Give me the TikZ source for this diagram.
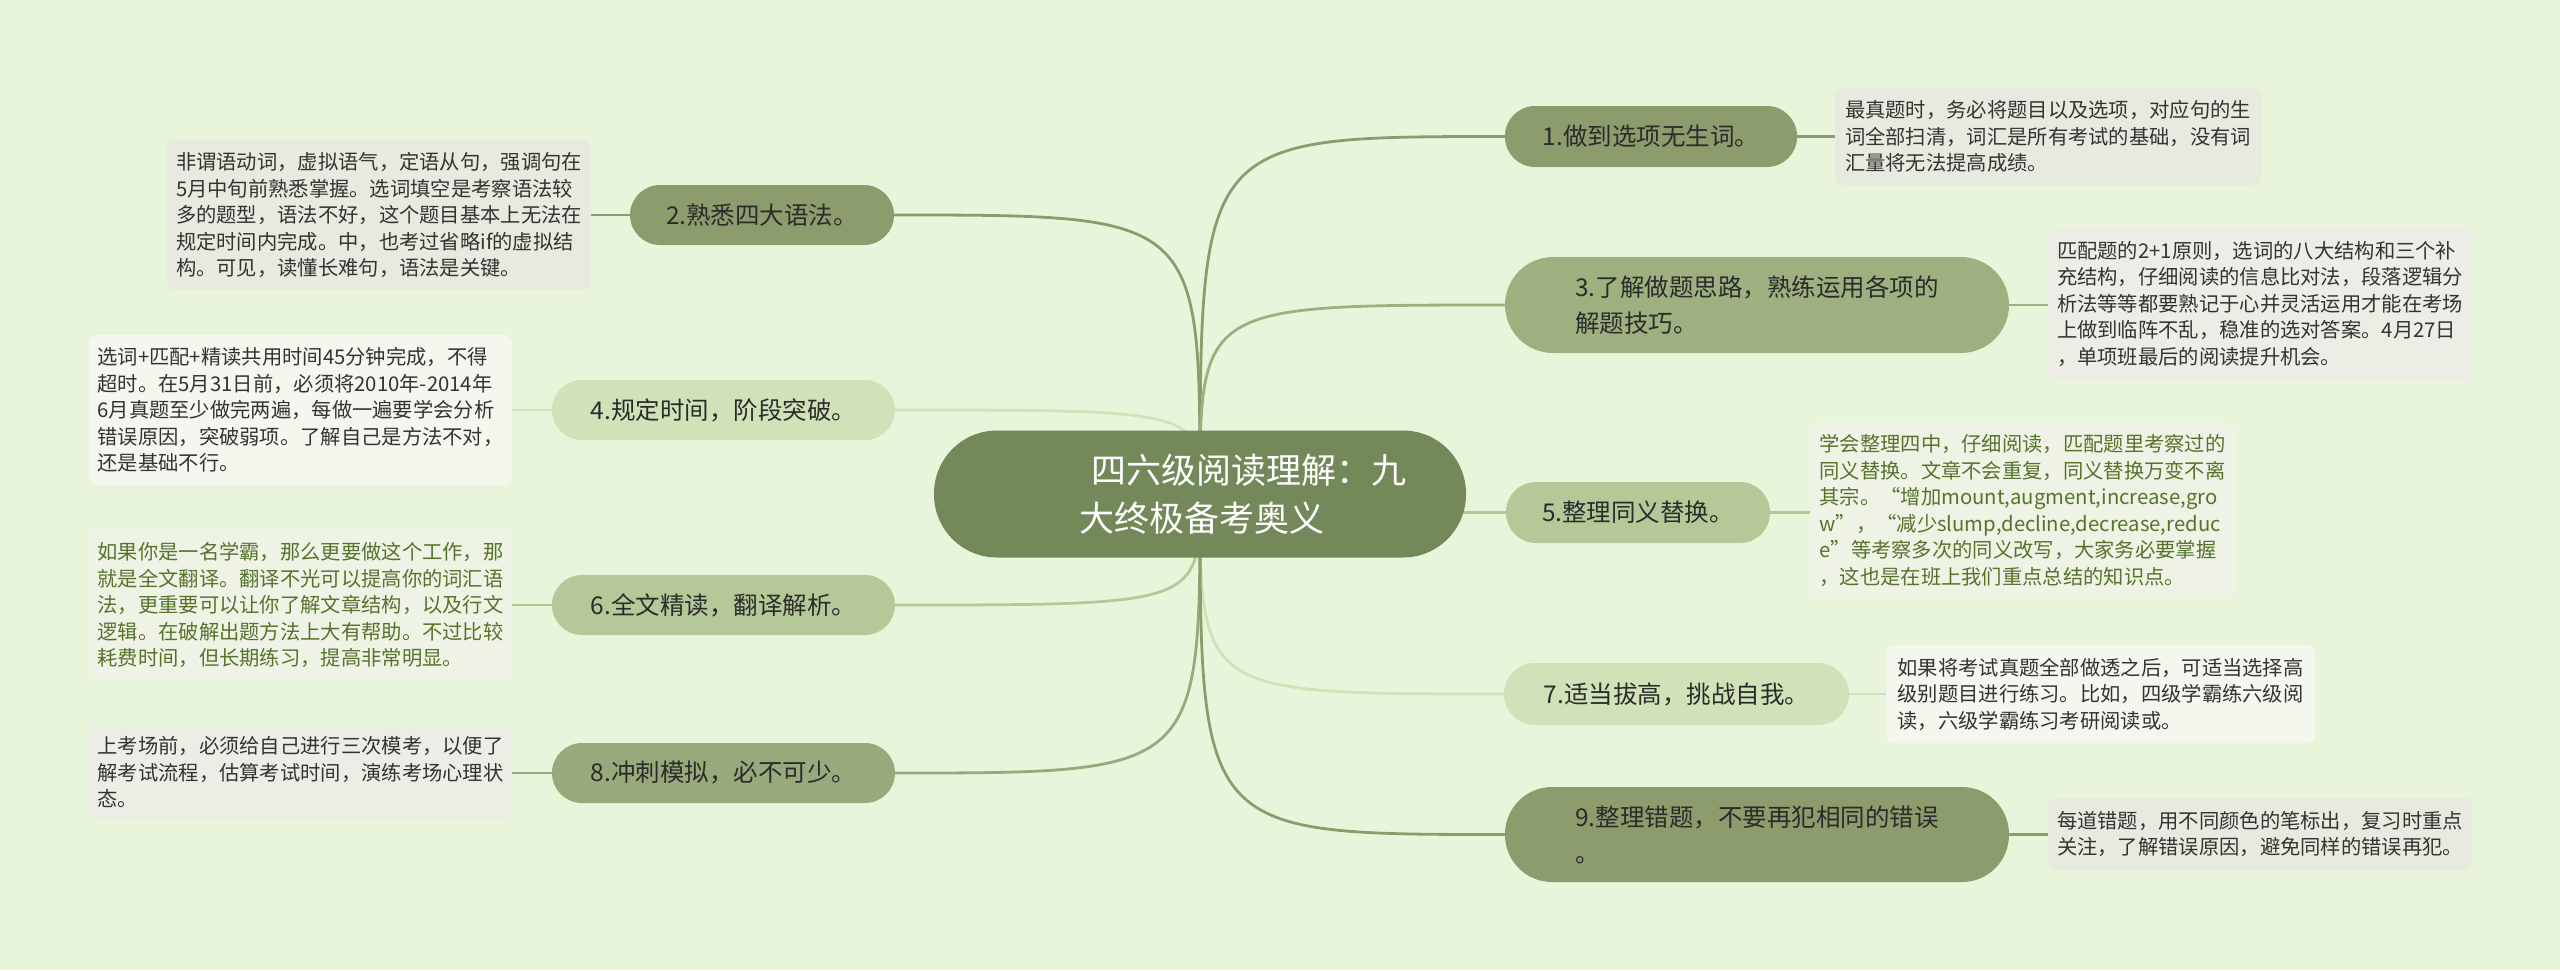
\documentclass[tikz,border=0pt]{standalone}
\usepackage{fontspec}
\newfontfamily\cjk{Noto Sans CJK SC}
\pgfdeclarelayer{bg}
\pgfsetlayers{bg,main}
\definecolor{bgc}{HTML}{E9F5DB}
\definecolor{cc}{HTML}{73895A}
\definecolor{ca}{HTML}{8C9C6C}
\definecolor{cb}{HTML}{98A97B}
\definecolor{cd}{HTML}{9EAF80}
\definecolor{ce}{HTML}{B5C898}
\definecolor{cf}{HTML}{D0E2B8}
\definecolor{maintext}{HTML}{2B2B2B}
\definecolor{darktext}{HTML}{333333}
\definecolor{olivetext}{HTML}{56732C}
\definecolor{da}{HTML}{E7EADF}
\definecolor{db}{HTML}{ECEEE5}
\definecolor{dc}{HTML}{F4F7EE}
\definecolor{dd}{HTML}{EFF3E6}
\tikzset{
  mainnode/.style={inner sep=0pt, text=maintext, align=left,
    font=\cjk\fontsize{24.5}{36}\selectfont},
  descbox/.style={inner sep=0pt, rounded corners=8pt, align=left, text=darktext,
    font=\cjk\fontsize{20.3}{26.5}\selectfont},
  link/.style={line width=2.8pt},
}
\begin{document}
\begin{tikzpicture}[x=1pt,y=-1pt]
\useasboundingbox (0,0) rectangle (2560,970);

% center
\node[inner sep=0pt, fill=cc, minimum width=532pt, minimum height=127pt, rounded corners=63pt,
  text=white, align=left, font=\cjk\fontsize{35}{48}\selectfont] (c) at (1200,494)
  {\hspace*{97pt}四六级阅读理解：九\\\hspace*{85pt}大终极备考奥义};

% main topics
\node[mainnode, fill=ca, minimum width=292pt, minimum height=61pt, rounded corners=30pt] (n1) at (1651,136.5) {1.做到选项无生词。};
\node[mainnode, fill=ca, minimum width=264pt, minimum height=60pt, rounded corners=30pt] (n2) at (762,215) {2.熟悉四大语法。};
\node[mainnode, fill=cd, minimum width=504pt, minimum height=96pt, rounded corners=48pt] (n3) at (1757,305) {3.了解做题思路，熟练运用各项的\\解题技巧。};
\node[mainnode, fill=cf, minimum width=343pt, minimum height=60pt, rounded corners=30pt] (n4) at (723.5,410) {4.规定时间，阶段突破。};
\node[mainnode, fill=ce, minimum width=264pt, minimum height=61pt, rounded corners=30pt] (n5) at (1638,512.5) {5.整理同义替换。};
\node[mainnode, fill=ce, minimum width=343pt, minimum height=60pt, rounded corners=30pt] (n6) at (723.5,605) {6.全文精读，翻译解析。};
\node[mainnode, fill=cf, minimum width=345pt, minimum height=62pt, rounded corners=31pt] (n7) at (1676.5,694) {7.适当拔高，挑战自我。};
\node[mainnode, fill=cb, minimum width=343pt, minimum height=60pt, rounded corners=30pt] (n8) at (723.5,773) {8.冲刺模拟，必不可少。};
\node[mainnode, fill=ca, minimum width=504pt, minimum height=95pt, rounded corners=47pt] (n9) at (1757,834.5) {9.整理错题，不要再犯相同的错误\\。};

% descriptions
\node[descbox, fill=da, minimum width=426pt, minimum height=97pt] (d1) at (2048,136.5)
 {最真题时，务必将题目以及选项，对应句的生\\词全部扫清，词汇是所有考试的基础，没有词\\汇量将无法提高成绩。};
\node[descbox, fill=da, minimum width=424pt, minimum height=150pt] (d2) at (379,215)
 {非谓语动词，虚拟语气，定语从句，强调句在\\5月中旬前熟悉掌握。选词填空是考察语法较\\多的题型，语法不好，这个题目基本上无法在\\规定时间内完成。中，也考过省略if的虚拟结\\构。可见，读懂长难句，语法是关键。};
\node[descbox, fill=db, minimum width=424pt, minimum height=152pt] (d3) at (2260,304)
 {匹配题的2+1原则，选词的八大结构和三个补\\充结构，仔细阅读的信息比对法，段落逻辑分\\析法等等都要熟记于心并灵活运用才能在考场\\上做到临阵不乱，稳准的选对答案。4月27日\\，单项班最后的阅读提升机会。};
\node[descbox, fill=dc, minimum width=423pt, minimum height=150pt] (d4) at (300.5,410)
 {选词+匹配+精读共用时间45分钟完成，不得\\超时。在5月31日前，必须将2010年-2014年\\6月真题至少做完两遍，每做一遍要学会分析\\错误原因，突破弱项。了解自己是方法不对，\\还是基础不行。};
\node[descbox, fill=dd, text=olivetext, minimum width=425pt, minimum height=175pt] (d5) at (2022.5,510.5)
 {学会整理四中，仔细阅读，匹配题里考察过的\\同义替换。文章不会重复，同义替换万变不离\\其宗。“增加mount,augment,increase,gro\\w”，“减少slump,decline,decrease,reduc\\e”等考察多次的同义改写，大家务必要掌握\\，这也是在班上我们重点总结的知识点。};
\node[descbox, fill=dd, text=olivetext, minimum width=423pt, minimum height=150pt] (d6) at (300.5,605)
 {如果你是一名学霸，那么更要做这个工作，那\\就是全文翻译。翻译不光可以提高你的词汇语\\法，更重要可以让你了解文章结构，以及行文\\逻辑。在破解出题方法上大有帮助。不过比较\\耗费时间，但长期练习，提高非常明显。};
\node[descbox, fill=dc, minimum width=429pt, minimum height=98pt] (d7) at (2100.5,694)
 {如果将考试真题全部做透之后，可适当选择高\\级别题目进行练习。比如，四级学霸练六级阅\\读，六级学霸练习考研阅读或。};
\node[descbox, fill=db, minimum width=423pt, minimum height=95pt] (d8) at (300.5,772.5)
 {上考场前，必须给自己进行三次模考，以便了\\解考试流程，估算考试时间，演练考场心理状\\态。};
\node[descbox, fill=da, minimum width=424pt, minimum height=72pt] (d9) at (2260,834)
 {每道错题，用不同颜色的笔标出，复习时重点\\关注，了解错误原因，避免同样的错误再犯。};

\begin{pgfonlayer}{bg}
\fill[bgc] (0,0) rectangle (2560,970);
\draw[link, draw=ca] (c.center) .. controls (c.center |- n1.west) .. (n1.west);
\draw[link, draw=ca] (c.center) .. controls (c.center |- n2.east) .. (n2.east);
\draw[link, draw=cd] (c.center) .. controls (c.center |- n3.west) .. (n3.west);
\draw[link, draw=cf] (c.center) .. controls (c.center |- n4.east) .. (n4.east);
\draw[link, draw=ce] (c.center) .. controls (c.center |- n5.west) .. (n5.west);
\draw[link, draw=ce] (c.center) .. controls (c.center |- n6.east) .. (n6.east);
\draw[link, draw=cf] (c.center) .. controls (c.center |- n7.west) .. (n7.west);
\draw[link, draw=cb] (c.center) .. controls (c.center |- n8.east) .. (n8.east);
\draw[link, draw=ca] (c.center) .. controls (c.center |- n9.west) .. (n9.west);
\draw[link, draw=ca] (n1.east) -- (d1.west |- n1.east);
\draw[link, draw=ca] (n2.west) -- (d2.east |- n2.west);
\draw[link, draw=cd] (n3.east) -- (d3.west |- n3.east);
\draw[link, draw=cf] (n4.west) -- (d4.east |- n4.west);
\draw[link, draw=ce] (n5.east) -- (d5.west |- n5.east);
\draw[link, draw=ce] (n6.west) -- (d6.east |- n6.west);
\draw[link, draw=cf] (n7.east) -- (d7.west |- n7.east);
\draw[link, draw=cb] (n8.west) -- (d8.east |- n8.west);
\draw[link, draw=ca] (n9.east) -- (d9.west |- n9.east);
\end{pgfonlayer}
\end{tikzpicture}
\end{document}
